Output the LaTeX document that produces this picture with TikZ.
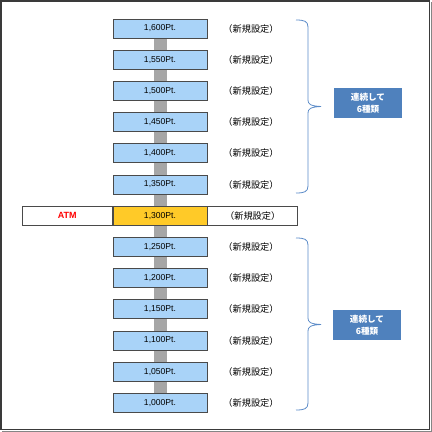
\documentclass[tikz,border=0pt]{standalone}
\usepackage{fontspec}
\setmainfont{Liberation Sans}
\newfontfamily\jpfont{Noto Sans CJK JP}
\usepackage{xcolor}
\usetikzlibrary{positioning}
\definecolor{FRAME}{HTML}{3A3A3A}
\definecolor{EDGE}{HTML}{4A4A4A}
\definecolor{PTBLUE}{HTML}{A9D3F8}
\definecolor{ATMGOLD}{HTML}{FFCA28}
\definecolor{BAR}{HTML}{A6A6A6}
\definecolor{TAG}{HTML}{4F81BD}
\definecolor{BRACE}{HTML}{5B8BC8}

\begin{document}
\begin{tikzpicture}[
  x=1pt, y=-1pt,
  font=\fontsize{8.6}{10}\selectfont,
  pt/.style={draw=EDGE, line width=0.7pt, fill=PTBLUE, minimum width=94pt, minimum height=19pt, inner sep=0pt},
  cur/.style={pt, fill=ATMGOLD},
  side/.style={draw=EDGE, line width=0.7pt, fill=white, minimum width=90pt, minimum height=19pt, inner sep=0pt},
  lbl/.style={font=\jpfont\fontsize{9.2}{10.5}\selectfont, inner sep=0pt},
  curlbl/.style={lbl, side},
  tag/.style={fill=TAG, text=white, minimum width=68pt, minimum height=30pt, align=center, inner sep=0pt, font=\jpfont\bfseries\fontsize{8.6}{11.5}\selectfont},
  brc/.style={draw=BRACE, line width=0.8pt}
]

\useasboundingbox (0,0) rectangle (432,432);
\draw[FRAME, line width=1.6pt] (0.8,0.8) rectangle (429.6,429.6);
\draw[BAR!80!black, line width=0.6pt] (431.6,2) -- (431.6,431.6) -- (2,431.6);

% gray spine behind the point boxes
\fill[BAR] (153.5,28) rectangle (166.5,403);

% point boxes and labels
\foreach \v/\s/\t [count=\i from 0] in {600/pt/lbl,550/pt/lbl,500/pt/lbl,450/pt/lbl,400/pt/lbl,350/pt/lbl,300/cur/curlbl,250/pt/lbl,200/pt/lbl,150/pt/lbl,100/pt/lbl,050/pt/lbl,000/pt/lbl}{
  \node[\s] (p\i) at (160,{28.5+31.2*\i}) {1,\v Pt.};
  \ifnum\i=6
    \node[\t, right=0pt of p\i] (n\i) {（新規設定）};
  \else
    \node[\t] (n\i) at (251,{28.5+31.2*\i}) {（新規設定）};
  \fi
}

% ATM row
\node[side, left=0pt of p6, text=red, font=\bfseries\fontsize{9}{10}\selectfont] (atm) {ATM};

% braces
\draw[brc] (296,20) .. controls (304,20) and (308,21) .. (308,27) -- (308,100)
  .. controls (308,104) and (310,106) .. (321,106.5)
  .. controls (310,107) and (308,109) .. (308,113) -- (308,186)
  .. controls (308,192) and (304,193) .. (296,193);
\draw[brc] (296,238) .. controls (304,238) and (308,239) .. (308,245) -- (308,318)
  .. controls (308,322) and (310,324) .. (321,324.5)
  .. controls (310,325) and (308,327) .. (308,331) -- (308,403)
  .. controls (308,409) and (304,410) .. (296,410);

% tags
\node[tag] (tagtop) at (368,103) {連続して\\6種類};
\node[tag] (tagbot) at (367,325) {連続して\\6種類};

\end{tikzpicture}
\end{document}
